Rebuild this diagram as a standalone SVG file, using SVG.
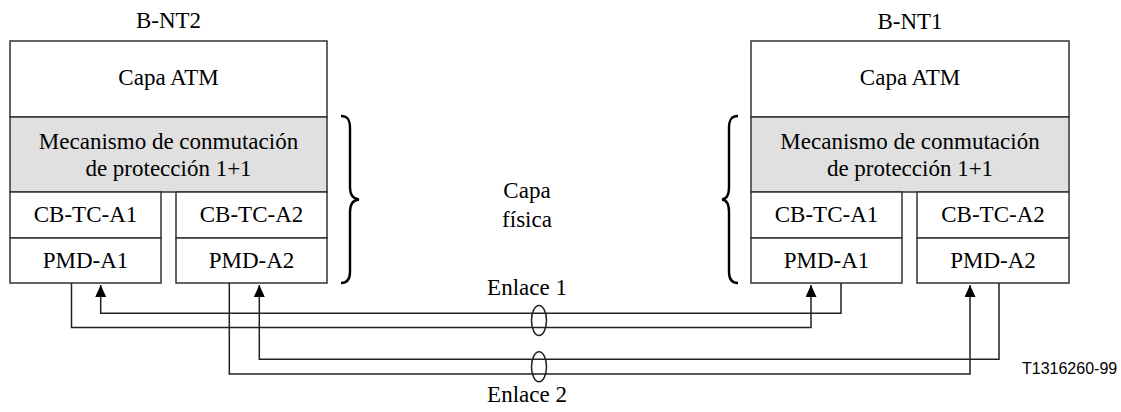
<svg xmlns="http://www.w3.org/2000/svg" width="1121" height="412" viewBox="0 0 1121 412">
<defs>
<style>
.box{fill:#fff;stroke:#333;stroke-width:1.5}
.gray{fill:#e0e0e0;stroke:#333;stroke-width:1.5}
.t{font-family:"Liberation Serif","Times New Roman",serif;font-size:23px;fill:#000;text-anchor:middle}
.s{font-family:"Liberation Sans",Arial,sans-serif;font-size:16px;fill:#000}
.ln{fill:none;stroke:#222;stroke-width:1.5}
.br{fill:none;stroke:#000;stroke-width:2.4}
</style>
<marker id="ah" viewBox="0 0 12 11" refX="12" refY="5.5" markerWidth="12" markerHeight="11" markerUnits="userSpaceOnUse" orient="auto">
<path d="M0,0 L12,5.5 L0,11 Z" fill="#000"/>
</marker>
</defs>
<rect width="1121" height="412" fill="#fff"/>

<g id="bnt2">
<text class="t" x="168.5" y="28">B-NT2</text>
<rect class="box" x="10" y="41" width="317" height="76"/>
<text class="t" x="168.5" y="85">Capa ATM</text>
<rect class="gray" x="10" y="117" width="317" height="75"/>
<text class="t" x="168.5" y="149">Mecanismo de conmutación</text>
<text class="t" x="168.5" y="176">de protección 1+1</text>
<rect class="box" x="10" y="192" width="151" height="46"/>
<text class="t" x="85.5" y="222">CB-TC-A1</text>
<rect class="box" x="10" y="238" width="151" height="45"/>
<text class="t" x="85.5" y="268">PMD-A1</text>
<rect class="box" x="176" y="192" width="151" height="46"/>
<text class="t" x="251.5" y="222">CB-TC-A2</text>
<rect class="box" x="176" y="238" width="151" height="45"/>
<text class="t" x="251.5" y="268">PMD-A2</text>
</g>

<g id="bnt1">
<text class="t" x="910" y="29">B-NT1</text>
<rect class="box" x="751" y="41" width="318" height="76"/>
<text class="t" x="910" y="85">Capa ATM</text>
<rect class="gray" x="751" y="117" width="318" height="75"/>
<text class="t" x="910" y="149">Mecanismo de conmutación</text>
<text class="t" x="910" y="176">de protección 1+1</text>
<rect class="box" x="751" y="192" width="151" height="46"/>
<text class="t" x="826.5" y="222">CB-TC-A1</text>
<rect class="box" x="751" y="238" width="151" height="45"/>
<text class="t" x="826.5" y="268">PMD-A1</text>
<rect class="box" x="917" y="192" width="152" height="46"/>
<text class="t" x="993" y="222">CB-TC-A2</text>
<rect class="box" x="917" y="238" width="152" height="45"/>
<text class="t" x="993" y="268">PMD-A2</text>
</g>

<g id="capa-fisica">
<path class="br" d="M341,116 C347,116 350,119 350,128 L350,187 C350,194 353,199 359,199.5 C353,200 350,205 350,212 L350,272 C350,280 347,283 341,283"/>
<path class="br" d="M738,116 C732,116 729,119 729,128 L729,187 C729,194 727,199 722,199.5 C727,200 729,205 729,212 L729,272 C729,280 732,283 738,283"/>
<text class="t" x="527" y="198">Capa</text>
<text class="t" x="527" y="227">física</text>
</g>

<g id="connectors">
<polyline class="ln" points="71.5,283 71.5,327.5 811,327.5 811,285" marker-end="url(#ah)"/>
<polyline class="ln" points="841,283 841,313.3 100.7,313.3 100.7,285" marker-end="url(#ah)"/>
<polyline class="ln" points="229.3,283 229.3,374 970,374 970,285" marker-end="url(#ah)"/>
<polyline class="ln" points="999,283 999,359.3 259.3,359.3 259.3,285" marker-end="url(#ah)"/>
<ellipse class="ln" cx="539" cy="320.5" rx="7.5" ry="15"/>
<ellipse class="ln" cx="539" cy="366.7" rx="7.5" ry="15"/>
</g>

<g id="labels">
<text class="t" x="527" y="295">Enlace 1</text>
<text class="t" x="527" y="402">Enlace 2</text>
<text class="s" x="1022" y="374">T1316260-99</text>
</g>
</svg>
